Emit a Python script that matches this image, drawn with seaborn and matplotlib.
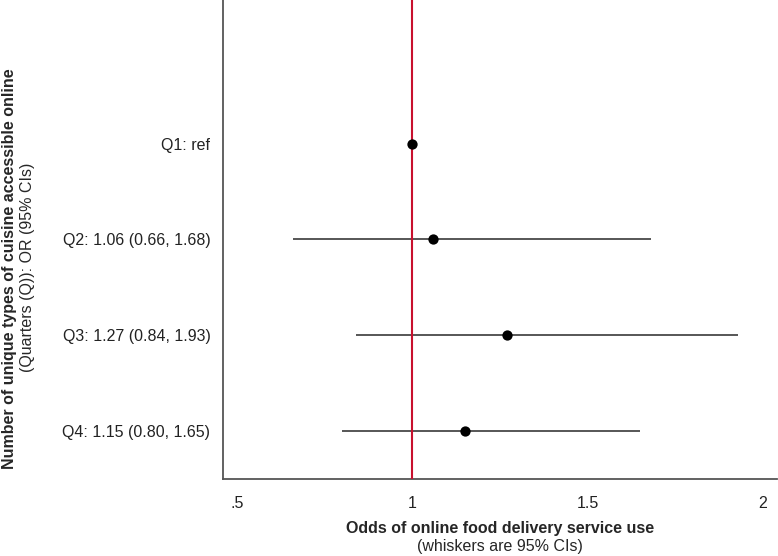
import numpy as np
import pandas as pd
import matplotlib
matplotlib.use('Agg')
import matplotlib.pyplot as plt
import seaborn as sns

# data
labels = ['Q1: ref', 'Q2: 1.06 (0.66, 1.68)', 'Q3: 1.27 (0.84, 1.93)', 'Q4: 1.15 (0.80, 1.65)']
odds = [1.00, 1.06, 1.27, 1.15]
ci_low = [1.00, 0.66, 0.84, 0.80]
ci_high = [1.00, 1.68, 1.93, 1.65]
xticks = [0.5, 1, 1.5, 2]
xtick_labels = ['.5', '1', '1.5', '2']

df = pd.DataFrame({'label': labels, 'odds': odds, 'lo': ci_low, 'hi': ci_high})
df['pos'] = np.arange(len(df))

sns.set_style('white')
plt.rcParams['font.family'] = ['Liberation Sans', 'DejaVu Sans']

fs = 11.5
fig = plt.figure(figsize=(7.78, 5.56), dpi=100)
ax = fig.add_axes([0.2866, 0.1385, 0.712, 0.8615])

# whiskers
ax.hlines(df['pos'], df['lo'], df['hi'], color='#3a3a3a', lw=1.2, zorder=2)
# reference line
ax.axvline(1, color='#c8102e', lw=1.5, zorder=3)
# point estimates
sns.scatterplot(data=df, x='odds', y='pos', color='black', s=55, edgecolor='black',
                linewidth=0, zorder=4, ax=ax, legend=False)

ax.set_xlim(0.46, 2.04)
ax.set_ylim(3.5, -1.5)
ax.set_xticks(xticks)
ax.set_xticklabels(xtick_labels, fontsize=fs, color='#222222')
ax.set_yticks(df['pos'])
ax.set_yticklabels(df['label'], fontsize=fs, color='#222222')
ax.tick_params(axis='x', length=0, pad=12)
ax.tick_params(axis='y', length=0, pad=9)
ax.set_xlabel('')
ax.set_ylabel('')

sns.despine(ax=ax)
for sp in ['left', 'bottom']:
    ax.spines[sp].set_color('#555555')
    ax.spines[sp].set_linewidth(1.3)

# axis titles (two lines: bold + normal)
fig.text(500 / 778, 1 - 529 / 556, 'Odds of online food delivery service use', ha='center', va='center',
         fontsize=fs, fontweight='bold')
fig.text(500 / 778, 1 - 546 / 556, '(whiskers are 95% CIs)', ha='center', va='center', fontsize=fs)
fig.text(10 / 778, 1 - 269 / 556, 'Number of unique types of cuisine accessible online', ha='center',
         va='center', rotation=90, fontsize=fs, fontweight='bold')
fig.text(28 / 778, 1 - 267 / 556, '(Quarters (Q)): OR (95% CIs)', ha='center', va='center',
         rotation=90, fontsize=fs)

plt.savefig('out.png', dpi=100)
plt.close()
